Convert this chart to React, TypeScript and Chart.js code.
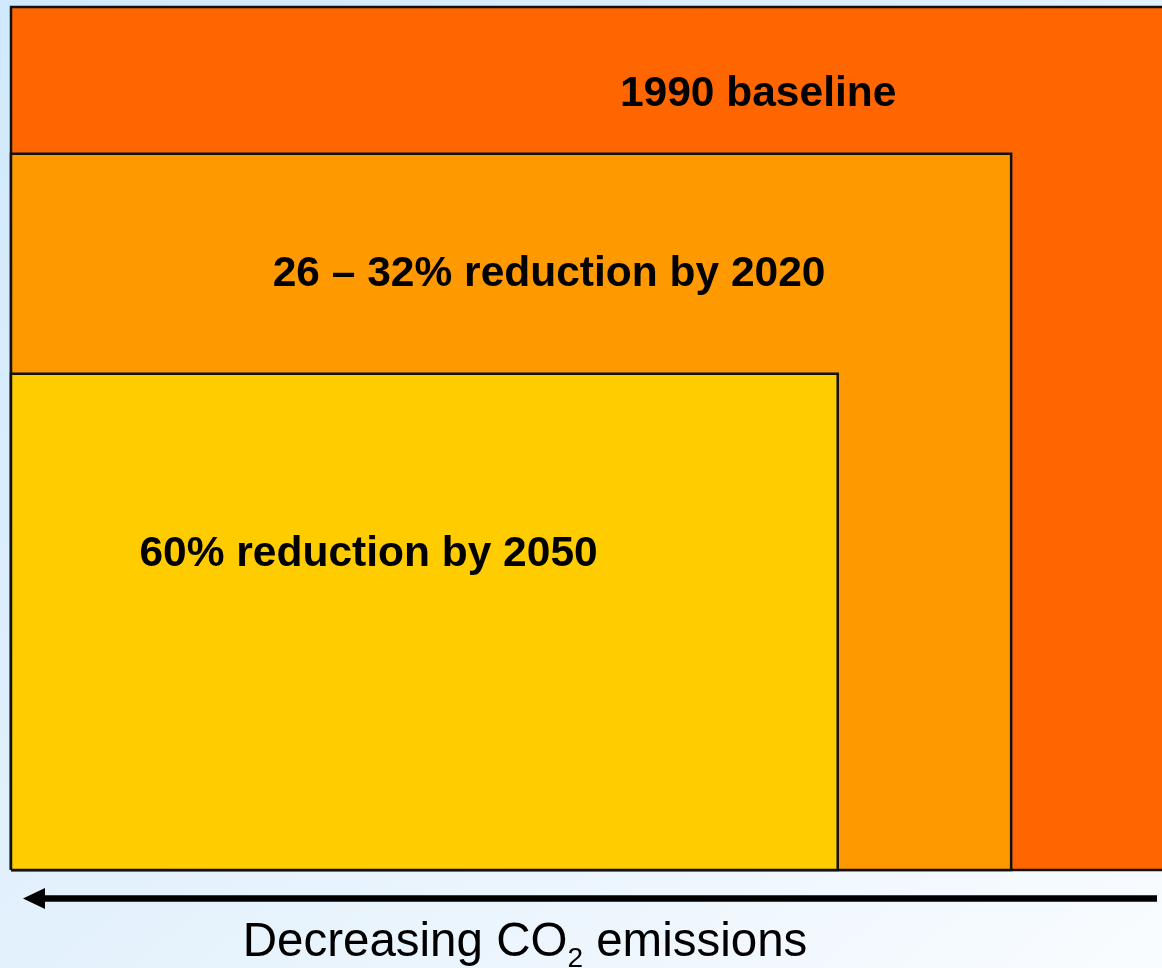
import React, { useEffect, useRef } from "react";
import { Chart, registerables } from "chart.js";

Chart.register(...registerables);

// Emission targets, each drawn as a box whose area is the share of 1990 emissions
const targetLabels = ["1990 baseline", "26 – 32% reduction by 2020", "60% reduction by 2050"];
const boxWidths = [100, 84.2, 69.6];
const boxHeights = [100, 83.0, 57.5];
const boxColors = ["#ff6600", "#ff9900", "#ffcc00"];

// Where each target's caption sits, in data units (centre x, baseline y)
const captionX = [62.9, 45.3, 30.1];
const captionY = [88.5, 67.7, 35.2];

const axisCaption = ["Decreasing CO", "2", " emissions"];

const X_MAX = 96.9;
const Y_MAX = 100;

const FONT = '"Liberation Sans", Arial, Helvetica, sans-serif';

const annotationsPlugin = {
  id: "targetAnnotations",
  afterDatasetsDraw(chart: any) {
    const { ctx, chartArea, scales } = chart;
    const xs = scales.x;
    const ys = scales.y;
    ctx.save();

    // captions inside the boxes
    ctx.fillStyle = "#000";
    ctx.font = `bold 42.5px ${FONT}`;
    ctx.textAlign = "center";
    ctx.textBaseline = "alphabetic";
    targetLabels.forEach((label, i) => {
      ctx.fillText(label, xs.getPixelForValue(captionX[i]), ys.getPixelForValue(captionY[i]));
    });

    // arrow pointing towards lower emissions
    const ay = chartArea.bottom + 28.5;
    const tipX = chartArea.left + 12;
    const headLen = 22;
    const headHalf = 10.5;
    ctx.strokeStyle = "#000";
    ctx.lineWidth = 6.5;
    ctx.lineCap = "butt";
    ctx.beginPath();
    ctx.moveTo(tipX + headLen - 2, ay);
    ctx.lineTo(chartArea.right - 5, ay);
    ctx.stroke();
    ctx.beginPath();
    ctx.moveTo(tipX, ay);
    ctx.lineTo(tipX + headLen, ay - headHalf);
    ctx.lineTo(tipX + headLen, ay + headHalf);
    ctx.closePath();
    ctx.fill();

    // axis caption with subscript
    const mainFont = `47.5px ${FONT}`;
    const subFont = `28px ${FONT}`;
    ctx.textAlign = "left";
    ctx.font = mainFont;
    const w0 = ctx.measureText(axisCaption[0]).width;
    const w2 = ctx.measureText(axisCaption[2]).width;
    ctx.font = subFont;
    const w1 = ctx.measureText(axisCaption[1]).width;
    const total = w0 + w1 + w2;
    const baseY = chartArea.bottom + 86;
    let x = 525 - total / 2;
    ctx.font = mainFont;
    ctx.fillText(axisCaption[0], x, baseY);
    x += w0;
    ctx.font = subFont;
    ctx.fillText(axisCaption[1], x, baseY + 11);
    x += w1;
    ctx.font = mainFont;
    ctx.fillText(axisCaption[2], x, baseY);

    ctx.restore();
  },
};

export default function App() {
  const canvasRef = useRef<HTMLCanvasElement | null>(null);

  useEffect(() => {
    if (!canvasRef.current) return;
    // Outline goes round the box and runs back along the bottom edge,
    // so the filled span reaches from the left edge to the right edge.
    const datasets = targetLabels.map((label, i) => ({
      label,
      data: [
        { x: 0, y: 0 },
        { x: 0, y: boxHeights[i] },
        { x: boxWidths[i], y: boxHeights[i] },
        { x: boxWidths[i], y: 0 },
        { x: 0, y: 0 },
        { x: boxWidths[i], y: 0 },
      ],
      showLine: true,
      fill: "origin",
      backgroundColor: boxColors[i],
      borderColor: "#111111",
      borderWidth: 2.5,
      pointRadius: 0,
      pointHoverRadius: 0,
      tension: 0,
      clip: false,
      order: targetLabels.length - i,
    }));

    const chart = new Chart(canvasRef.current, {
      type: "scatter",
      data: { datasets },
      options: {
        animation: false,
        responsive: false,
        events: [],
        layout: { padding: { left: 11, top: 7, right: 0, bottom: 98 } },
        scales: {
          x: { type: "linear", min: 0, max: X_MAX, display: false },
          y: { type: "linear", min: 0, max: Y_MAX, display: false },
        },
        plugins: {
          legend: { display: false },
          tooltip: { enabled: false },
        },
      },
      plugins: [annotationsPlugin],
    } as any);

    return () => chart.destroy();
  }, []);

  return (
    <div
      style={{
        position: "absolute",
        left: 0,
        top: 0,
        width: 1162,
        height: 968,
        background: "linear-gradient(to bottom right, #d0e9fc 0%, #e3f1fc 50%, #f9fcff 100%)",
        overflow: "hidden",
      }}
    >
      <canvas ref={canvasRef} width={1162} height={968} style={{ display: "block" }} />
    </div>
  );
}
